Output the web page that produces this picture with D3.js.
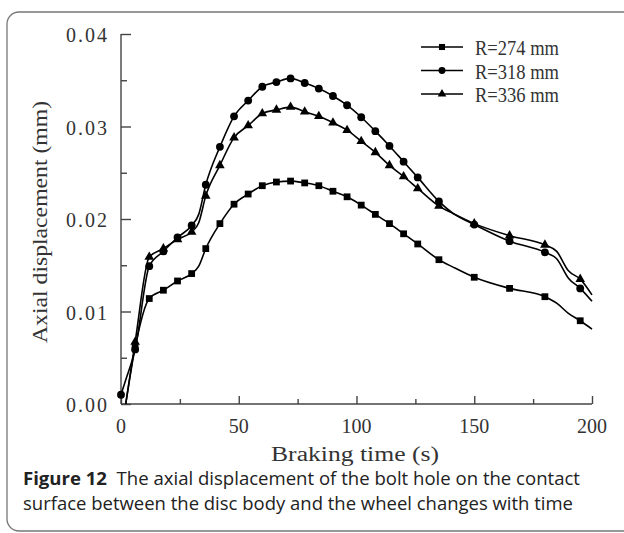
<!DOCTYPE html>
<html>
<head>
<meta charset="utf-8">
<script src="https://cdn.jsdelivr.net/npm/d3@7"></script>
<style>
  body { margin: 0; background: #fff; }
  svg { display: block; }
</style>
</head>
<body>
<div id="chart"></div>
<script>
// braking time (s) used for the curves
const times = [0, 2, 6, 12, 18, 24, 30, 33, 36, 42, 48, 54, 60, 66, 72, 78, 84, 90, 96, 102, 108, 114, 120, 126, 135, 141, 150, 165, 180, 185, 190, 195, 200];
// times that carry a marker
const markerTimes = [6, 12, 18, 24, 30, 36, 42, 48, 54, 60, 66, 72, 78, 84, 90, 96, 102, 108, 114, 120, 126, 135, 150, 165, 180, 195];

// axial displacement (mm)
const r274 = [null, 0, 0.0061, 0.0114, 0.0123, 0.0133, 0.0141, 0.0149, 0.0168, 0.0195, 0.0216, 0.0227, 0.0236, 0.0240, 0.0241, 0.0239, 0.0236, 0.0230, 0.0224, 0.0215, 0.0205, 0.0195, 0.0184, 0.0173, 0.0156, 0.0148, 0.0137, 0.0125, 0.0116, 0.0109, 0.0098, 0.0090, 0.0081];
const r318 = [0.0010, 0.0026, 0.0059, 0.0149, 0.0165, 0.0180, 0.0193, 0.0205, 0.0237, 0.0278, 0.0311, 0.0328, 0.0343, 0.0348, 0.0352, 0.0347, 0.0341, 0.0333, 0.0323, 0.0310, 0.0295, 0.0279, 0.0262, 0.0245, 0.0219, 0.0206, 0.0194, 0.0176, 0.0164, 0.0157, 0.0136, 0.0125, 0.0111];
const r336 = [null, 0, 0.0067, 0.0159, 0.0168, 0.0178, 0.0186, 0.0196, 0.0225, 0.0258, 0.0288, 0.0301, 0.0314, 0.0318, 0.0321, 0.0316, 0.0311, 0.0304, 0.0296, 0.0284, 0.0272, 0.0258, 0.0246, 0.0233, 0.0214, 0.0206, 0.0195, 0.0182, 0.0172, 0.0165, 0.0144, 0.0135, 0.0118];

const seriesNames = ["R=274 mm", "R=318 mm", "R=336 mm"];
const xTicks = [0, 50, 100, 150, 200];
const yTicks = [0, 0.01, 0.02, 0.03, 0.04];

const width = 624, height = 533;
const svg = d3.select("#chart").append("svg")
  .attr("width", width)
  .attr("height", height);

// frame round the figure
svg.append("rect")
  .attr("x", 7).attr("y", 12)
  .attr("width", 660).attr("height", 519)
  .attr("rx", 12)
  .attr("fill", "none")
  .attr("stroke", "#777")
  .attr("stroke-width", 1.3);

const x = d3.scaleLinear().domain([0, 200]).range([121, 592]);
const y = d3.scaleLinear().domain([0, 0.04]).range([404, 34]);

const serif = "'Liberation Serif', 'DejaVu Serif', serif";
const axisColor = "#444";
const textColor = "#333";

// clip lines to the plot box
svg.append("clipPath").attr("id", "plotClip")
  .append("rect")
  .attr("x", 121).attr("y", 30)
  .attr("width", 480).attr("height", 374);

// x axis: ticks point up into the plot
const xAxis = svg.append("g")
  .attr("transform", "translate(0,404)")
  .call(d3.axisTop(x).tickValues(d3.range(0, 201, 25)).tickSize(5).tickFormat(""));
xAxis.selectAll(".tick line")
  .attr("y2", d => d % 50 === 0 ? -8 : -5);
xAxis.select(".domain").attr("d", "M121,0H592");
xAxis.selectAll("path, line").attr("stroke", axisColor).attr("stroke-width", 1.4);

svg.append("g").selectAll("text")
  .data(xTicks)
  .join("text")
  .attr("x", d => x(d))
  .attr("y", 426)
  .attr("text-anchor", "middle")
  .attr("dominant-baseline", "central")
  .style("font-family", serif)
  .style("font-size", "20px")
  .attr("fill", textColor)
  .text(d => d);

// y axis: ticks point right into the plot
const yAxis = svg.append("g")
  .attr("transform", "translate(121,0)")
  .call(d3.axisRight(y).tickValues(d3.range(0, 0.0401, 0.005)).tickSize(6).tickFormat(""));
yAxis.selectAll(".tick line")
  .attr("x2", (d, i) => i % 2 === 0 ? 10 : 6);
yAxis.select(".domain").attr("d", "M0,34V404");
yAxis.selectAll("path, line").attr("stroke", axisColor).attr("stroke-width", 1.4);

svg.append("g").selectAll("text")
  .data(yTicks)
  .join("text")
  .attr("x", 109)
  .attr("y", d => y(d) + 1)
  .attr("text-anchor", "end")
  .attr("dominant-baseline", "central")
  .style("font-family", serif)
  .style("font-size", "20px")
  .style("letter-spacing", "2px")
  .attr("fill", textColor)
  .text(d => d.toFixed(2));

// axis titles
svg.append("text")
  .attr("x", 355)
  .attr("y", 454)
  .attr("text-anchor", "middle")
  .attr("dominant-baseline", "central")
  .attr("textLength", 168)
  .attr("lengthAdjust", "spacingAndGlyphs")
  .style("font-family", serif)
  .style("font-size", "20px")
  .attr("fill", textColor)
  .text("Braking time (s)");

svg.append("text")
  .attr("transform", "translate(40,222) rotate(-90)")
  .attr("text-anchor", "middle")
  .attr("dominant-baseline", "central")
  .attr("textLength", 242)
  .attr("lengthAdjust", "spacingAndGlyphs")
  .style("font-family", serif)
  .style("font-size", "20px")
  .attr("fill", textColor)
  .text("Axial displacement (mm)");

// series
const symbols = [d3.symbolSquare, d3.symbolCircle, d3.symbolTriangle];
const symbolSizes = [46, 48, 40];
const seriesValues = [r274, r318, r336];

const line = d3.line()
  .defined(d => d.v !== null)
  .x(d => x(d.t))
  .y(d => y(d.v))
  .curve(d3.curveMonotoneX);

seriesValues.forEach((vals, s) => {
  const pts = times.map((t, i) => ({ t: t, v: vals[i] }));
  svg.append("path")
    .datum(pts)
    .attr("clip-path", "url(#plotClip)")
    .attr("fill", "none")
    .attr("stroke", "#000")
    .attr("stroke-width", 1.6)
    .attr("d", line);

  const marks = s === 1 ? [0].concat(markerTimes) : markerTimes;
  svg.append("g").selectAll("path")
    .data(pts.filter(d => d.v !== null && marks.includes(d.t)))
    .join("path")
    .attr("transform", d => `translate(${x(d.t)},${y(d.v)})`)
    .attr("d", d3.symbol().type(symbols[s]).size(symbolSizes[s]))
    .attr("fill", "#000");
});

// legend
const legend = svg.append("g");
const legendRows = [47, 70.5, 94];
seriesNames.forEach((name, s) => {
  const ly = legendRows[s];
  legend.append("line")
    .attr("x1", 421).attr("x2", 463)
    .attr("y1", ly).attr("y2", ly)
    .attr("stroke", "#000")
    .attr("stroke-width", 1.6);
  legend.append("path")
    .attr("transform", `translate(442,${ly})`)
    .attr("d", d3.symbol().type(symbols[s]).size(symbolSizes[s] * 0.8))
    .attr("fill", "#000");
  legend.append("text")
    .attr("x", 475)
    .attr("y", ly + 1)
    .attr("dominant-baseline", "central")
    .attr("textLength", 84)
    .attr("lengthAdjust", "spacingAndGlyphs")
    .style("font-family", serif)
    .style("font-size", "21px")
    .attr("fill", textColor)
    .text(name);
});

// caption
const sans = "'Open Sans', 'Noto Sans', sans-serif";
const cap1 = svg.append("text")
  .attr("x", 23)
  .attr("y", 485)
  .attr("textLength", 557)
  .attr("lengthAdjust", "spacingAndGlyphs")
  .style("font-family", sans)
  .style("font-size", "18px")
  .attr("fill", "#222");
cap1.append("tspan").style("font-weight", "bold").text("Figure 12");
cap1.append("tspan").text("\u00a0 The axial displacement of the bolt hole on the contact");

svg.append("text")
  .attr("x", 23)
  .attr("y", 510)
  .attr("textLength", 550)
  .attr("lengthAdjust", "spacingAndGlyphs")
  .style("font-family", sans)
  .style("font-size", "18px")
  .attr("fill", "#222")
  .text("surface between the disc body and the wheel changes with time");
</script>
</body>
</html>
